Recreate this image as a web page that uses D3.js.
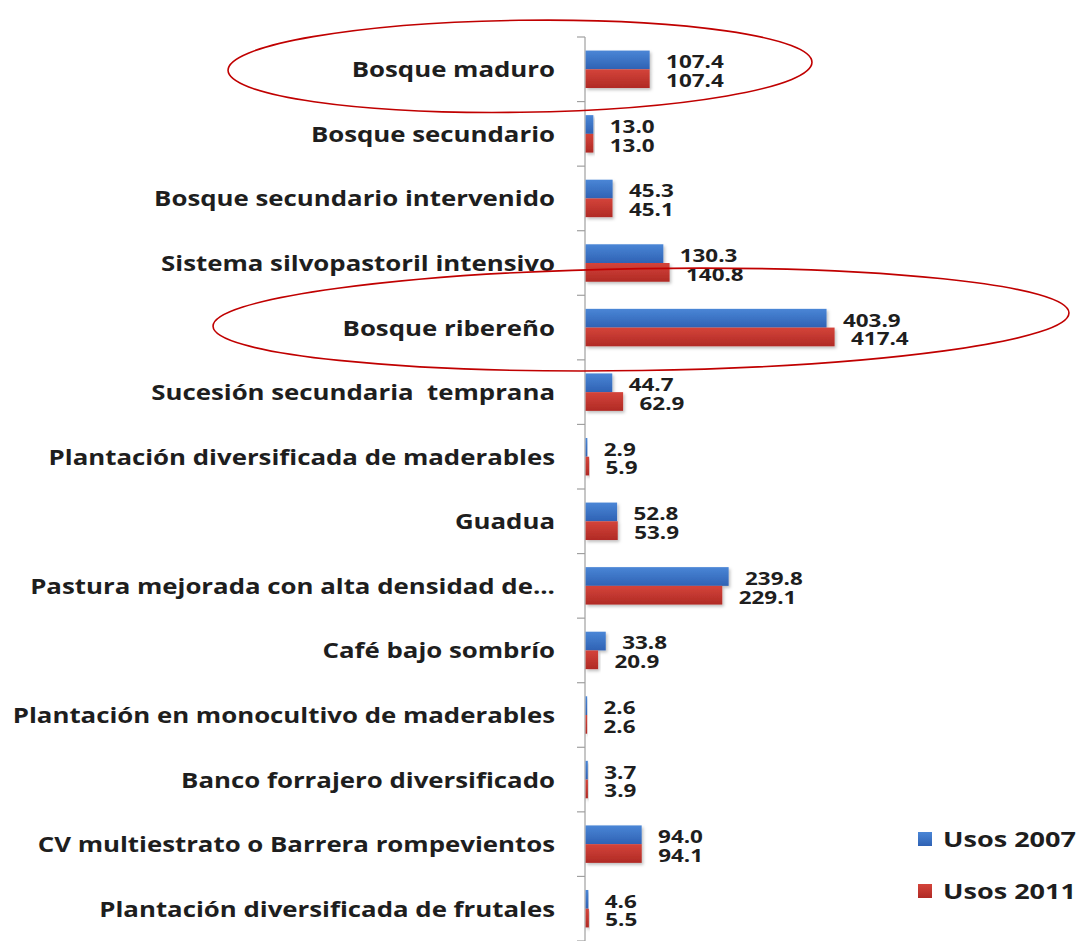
<!DOCTYPE html>
<html>
<head>
<meta charset="utf-8">
<script src="https://cdn.jsdelivr.net/npm/d3@7"></script>
<style>
  html, body { margin: 0; padding: 0; background: #fff; }
  svg { display: block; }
  text { font-family: "Open Sans", "DejaVu Sans", sans-serif; font-weight: 700; fill: #1e1e1e; white-space: pre; }
</style>
</head>
<body>
<svg id="chart" width="1077" height="941"></svg>
<script>
const categories = [
  "Bosque maduro",
  "Bosque secundario",
  "Bosque secundario intervenido",
  "Sistema silvopastoril intensivo",
  "Bosque ribereño",
  "Sucesión secundaria  temprana",
  "Plantación diversificada de maderables",
  "Guadua",
  "Pastura mejorada con alta densidad de...",
  "Café bajo sombrío",
  "Plantación en monocultivo de maderables",
  "Banco forrajero diversificado",
  "CV multiestrato o Barrera rompevientos",
  "Plantación diversificada de frutales"
];
const usos2007 = [107.4, 13.0, 45.3, 130.3, 403.9, 44.7, 2.9, 52.8, 239.8, 33.8, 2.6, 3.7, 94.0, 4.6];
const usos2011 = [107.4, 13.0, 45.1, 140.8, 417.4, 62.9, 5.9, 53.9, 229.1, 20.9, 2.6, 3.9, 94.1, 5.5];
const seriesNames = ["Usos 2007", "Usos 2011"];
const highlighted = ["Bosque maduro", "Bosque ribereño"];

const svg = d3.select("#chart");
const defs = svg.append("defs");

const colors = {
  "Usos 2007": ["#4a86d6", "#2f62b4"],
  "Usos 2011": ["#d4443a", "#b02a25"]
};
seriesNames.forEach((s, i) => {
  const g = defs.append("linearGradient").attr("id", "grad" + i)
    .attr("x1", 0).attr("y1", 0).attr("x2", 0).attr("y2", 1);
  g.append("stop").attr("offset", "0%").attr("stop-color", colors[s][0]);
  g.append("stop").attr("offset", "100%").attr("stop-color", colors[s][1]);
});
const f = defs.append("filter").attr("id", "shadow").attr("x", "-10%").attr("y", "-30%").attr("width", "130%").attr("height", "180%");
f.append("feDropShadow").attr("dx", 1.5).attr("dy", 2).attr("stdDeviation", 1.5).attr("flood-color", "#000").attr("flood-opacity", 0.25);

const x0 = 585;
const x = d3.scaleLinear().domain([0, 417.4]).range([x0, 834]);
const y = d3.scaleBand().domain(categories).range([37, 941]).paddingInner(0.42).paddingOuter(0.21);
const ySub = d3.scaleBand().domain(seriesNames).range([0, y.bandwidth()]);

const rows = categories.map((c, i) => ({ cat: c, vals: [usos2007[i], usos2011[i]] }));

// axis line + boundary ticks
const boundaries = d3.range(categories.length + 1).map(i => 37 + i * y.step());
svg.append("line").attr("x1", x0).attr("x2", x0).attr("y1", 37).attr("y2", 941)
  .attr("stroke", "#a0a0a0").attr("stroke-width", 1.2);
svg.selectAll(".tick").data(boundaries).join("line")
  .attr("x1", x0 - 8).attr("x2", x0).attr("y1", d => d).attr("y2", d => d)
  .attr("stroke", "#a0a0a0").attr("stroke-width", 1.2);

// bars
const groups = svg.selectAll(".row").data(rows).join("g")
  .attr("transform", d => `translate(0,${y(d.cat)})`);
groups.selectAll("rect").data(d => d.vals.map((v, i) => ({ v, s: seriesNames[i], i })))
  .join("rect")
  .attr("x", x0 + 0.6)
  .attr("y", d => ySub(d.s))
  .attr("width", d => x(d.v) - x0)
  .attr("height", ySub.bandwidth())
  .attr("fill", d => `url(#grad${d.i})`)
  .attr("filter", "url(#shadow)");

// value labels (horizontally widened like the reference)
groups.selectAll("text.val").data(d => d.vals.map((v, i) => ({ v, s: seriesNames[i] })))
  .join("text").attr("class", "val")
  .attr("transform", d => `translate(${x(d.v) + 17},${ySub(d.s) + ySub.bandwidth() / 2 + 2}) scale(1.32,1)`)
  .attr("dominant-baseline", "central")
  .attr("font-size", 17)
  .text(d => d3.format(".1f")(d.v));

// category labels
svg.selectAll("text.cat").data(categories).join("text").attr("class", "cat")
  .attr("transform", d => `translate(555,${y(d) + y.bandwidth() / 2}) scale(1.23,1)`)
  .attr("text-anchor", "end")
  .attr("dominant-baseline", "central")
  .attr("font-size", 21)
  .text(d => d);

// highlight ellipses
const ellipses = [
  { cat: highlighted[0], cx: 520, dy: -3, rx: 292, ry: 46, rot: -0.8 },
  { cat: highlighted[1], cx: 641, dy: -8, rx: 428, ry: 51, rot: -0.9 }
];
ellipses.forEach(e => {
  const cy = y(e.cat) + y.bandwidth() / 2 + e.dy;
  svg.append("ellipse").attr("cx", e.cx).attr("cy", cy).attr("rx", e.rx).attr("ry", e.ry)
    .attr("transform", `rotate(${e.rot},${e.cx},${cy})`)
    .attr("fill", "none").attr("stroke", "#c00000").attr("stroke-width", 1.6);
});

// legend
const legend = svg.append("g").attr("transform", "translate(918,839)");
seriesNames.forEach((s, i) => {
  const g = legend.append("g").attr("transform", `translate(0,${i * 52})`);
  g.append("rect").attr("x", 0).attr("y", -7).attr("width", 14).attr("height", 14)
    .attr("fill", `url(#grad${i})`);
  g.append("text").attr("transform", "translate(25,0) scale(1.23,1)").attr("dominant-baseline", "central")
    .attr("font-size", 22).text(s);
});
</script>
</body>
</html>
